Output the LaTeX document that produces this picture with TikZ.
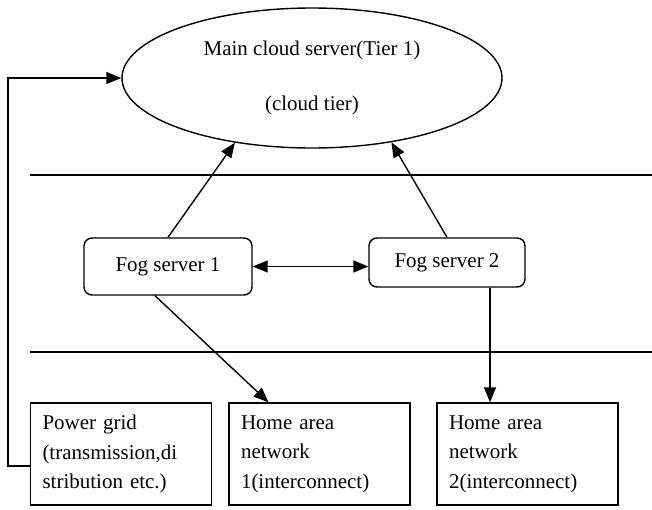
\documentclass[tikz,border=0pt]{standalone}
\usepackage{fontspec}
\setmainfont{Liberation Serif}
\usepackage{tikz}
\usetikzlibrary{arrows.meta,shapes.geometric}

\tikzset{
	tier/.style={draw,line width=1.4pt,ellipse,minimum width=380pt,minimum height=140pt,align=center,inner sep=0pt},
	fogbox/.style={draw,line width=1.4pt,rounded corners=8pt,align=center},
	housebox/.style={draw,line width=1.4pt,minimum width=181pt,minimum height=102pt,text width=157pt,inner xsep=12pt,align=left},
	link/.style={line width=1.4pt,-{Triangle[length=15pt,width=12pt]}}
}

\begin{document}
\begin{tikzpicture}[x=1pt,y=-1pt,font=\fontsize{21}{29.5}\selectfont]
	\useasboundingbox (0,0) rectangle (652,509);
	\node[tier] (cloud) at (312,78) {Main cloud server(Tier 1)\\[25pt](cloud tier)};
	\node[fogbox,minimum width=168pt,minimum height=57pt] (fog1) at (168,266.5) {Fog server 1};
	\node[fogbox,minimum width=156pt,minimum height=49pt] (fog2) at (447,262.5) {Fog server 2};
	\node[housebox] (grid) at (121,454) {Power grid\\(transmission,di\\stribution etc.)};
	\node[housebox] (han1) at (319.5,454) {Home area\\network\\1(interconnect)};
	\node[housebox] (han2) at (527.5,454) {Home area\\network\\2(interconnect)};
	% tier borders
	\coordinate (b1L) at (30,175);
	\coordinate (b1R) at (652,175);
	\coordinate (b2L) at (30,352);
	\coordinate (b2R) at (652,352);
	\draw[line width=1.4pt] (b1L) -- (b1R);
	\draw[line width=1.4pt] (b2L) -- (b2R);
	\draw[link] (fog1.north) -- (cloud.220);
	\draw[link] (fog2.north) -- (cloud.321);
	\draw[link,{Triangle[length=15pt,width=12pt]}-{Triangle[length=15pt,width=12pt]}] (fog1.east) -- (fog1.east -| fog2.west);
	\draw[link] ([xshift=-13pt]fog1.south) -- ([xshift=-51pt]han1.north);
	\draw[link] ([xshift=43pt]fog2.south) -- ([xshift=43pt]fog2.south |- han2.north);
	\draw[link] ([yshift=-12pt]grid.west) -| (cloud.west -| 8,0) -- (cloud.west);
\end{tikzpicture}
\end{document}
